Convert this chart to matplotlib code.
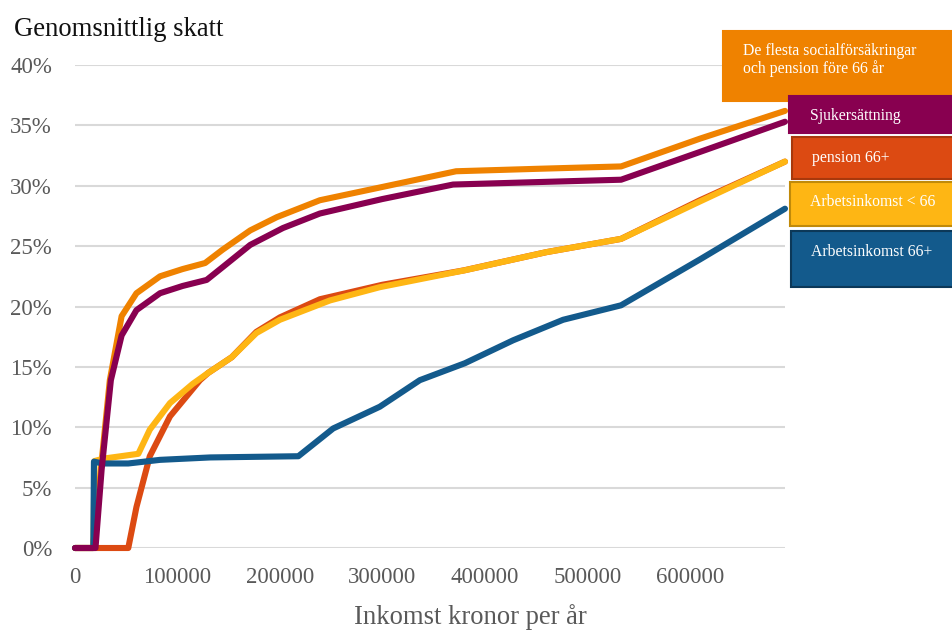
import matplotlib.pyplot as plt
from matplotlib.patches import Rectangle

plt.rcParams['font.family'] = ['Liberation Serif', 'DejaVu Serif']

# inkomst (kr) och genomsnittlig skatt (%) per grupp
soc_x = [0, 17500, 34000, 45500, 60000, 83000, 105000, 127000, 144000, 171000,
         197000, 239000, 300000, 372000, 450000, 533000, 610000, 693000]
soc_y = [0, 0, 13.9, 19.2, 21.1, 22.5, 23.1, 23.6, 24.7, 26.3,
         27.4, 28.8, 29.9, 31.2, 31.4, 31.6, 33.9, 36.2]

sjuk_x = [0, 20000, 26000, 35000, 45500, 60000, 83000, 105000, 128500, 144700,
          171000, 203000, 239000, 300000, 369000, 450000, 533000, 610000, 693000]
sjuk_y = [0, 0, 6.5, 13.9, 17.6, 19.7, 21.1, 21.7, 22.2, 23.3,
          25.1, 26.5, 27.7, 28.9, 30.1, 30.3, 30.5, 32.8, 35.3]

pens_x = [0, 52000, 60000, 73000, 92700, 122000, 130000, 153000, 177000, 200000,
          239000, 300000, 380000, 460000, 533000, 610000, 693000]
pens_y = [0, 0, 3.4, 7.6, 10.9, 13.9, 14.5, 15.8, 17.9, 19.1,
          20.6, 21.8, 23.0, 24.5, 25.6, 28.8, 32.0]

arb_x = [0, 18000, 19000, 27600, 61800, 73000, 92700, 115000, 130000, 153000,
         177000, 200000, 248800, 297500, 380500, 460000, 533000, 610000, 693000]
arb_y = [0, 0, 7.2, 7.4, 7.8, 9.8, 12.0, 13.6, 14.5, 15.8,
         17.8, 18.9, 20.5, 21.6, 23.0, 24.5, 25.6, 28.7, 32.0]

arb66_x = [0, 17900, 18500, 27000, 52000, 83000, 132000, 218000, 252000, 297500,
           336600, 380500, 427600, 476400, 533000, 610000, 693000]
arb66_y = [0, 0, 7.15, 7.0, 7.0, 7.3, 7.5, 7.6, 9.9, 11.7,
           13.9, 15.3, 17.2, 18.9, 20.1, 23.9, 28.1]

c_soc = '#ef8200'
c_sjuk = '#880050'
c_pens = '#dc4a12'
c_arb = '#feb614'
c_arb66 = '#135a8c'

W, H = 952, 632
fig = plt.figure(figsize=(W / 100, H / 100), dpi=100)
ax = fig.add_axes([75 / W, (H - 548) / H, 710 / W, 483 / H])

lw = 4.4
for xs, ys, c in [(soc_x, soc_y, c_soc), (pens_x, pens_y, c_pens),
                  (arb_x, arb_y, c_arb), (arb66_x, arb66_y, c_arb66),
                  (sjuk_x, sjuk_y, c_sjuk)]:
    ax.plot(xs, ys, color=c, lw=lw, solid_capstyle='round',
            solid_joinstyle='round', clip_on=False, zorder=3)

ax.set_xlim(0, 693000)
ax.set_ylim(0, 40)
ax.set_yticks(range(0, 41, 5))
ax.set_yticklabels(['%d%%' % v for v in range(0, 41, 5)])
ax.set_xticks(range(0, 600001, 100000))
ax.set_xticklabels([str(v) for v in range(0, 600001, 100000)])
ax.grid(axis='y', color='#d9d9d9', lw=1.5)
ax.set_axisbelow(True)
for s in ax.spines.values():
    s.set_visible(False)
ax.tick_params(axis='both', length=0, labelsize=16.5, labelcolor='#595959')
ax.tick_params(axis='y', pad=16.5)
ax.tick_params(axis='x', pad=14)

fig.text(14 / W, 1 - 36 / H, 'Genomsnittlig skatt', fontsize=19.2,
         color='#111111', ha='left', va='baseline')
fig.text(470 / W, 1 - 624 / H, 'Inkomst kronor per år', fontsize=19.2,
         color='#595959', ha='center', va='baseline')

# färgade etikettrutor till höger
boxes = [
    (723, 31, 960, 101, c_soc, c_soc, 'De flesta socialförsäkringar\noch pension före 66 år', 743, 60),
    (789, 96, 960, 133, c_sjuk, c_sjuk, 'Sjukersättning', 810, 115.7),
    (792, 137, 960, 179, c_pens, '#a8380c', 'pension 66+', 812, 157.5),
    (790, 182, 960, 226, c_arb, '#c08a0a', 'Arbetsinkomst < 66', 810, 202.3),
    (791, 231, 960, 287, c_arb66, '#0c3858', 'Arbetsinkomst 66+', 811, 251.7),
]
for x0, y0, x1, y1, fc, ec, label, tx, ty in boxes:
    fig.add_artist(Rectangle((x0 / W, 1 - y1 / H), (x1 - x0) / W, (y1 - y0) / H,
                             transform=fig.transFigure, facecolor=fc,
                             edgecolor=ec, lw=1.5))
    fig.text(tx / W, 1 - ty / H, label, fontsize=11.3, color='white',
             ha='left', va='center', linespacing=1.1)

plt.savefig('out.png', dpi=100)
